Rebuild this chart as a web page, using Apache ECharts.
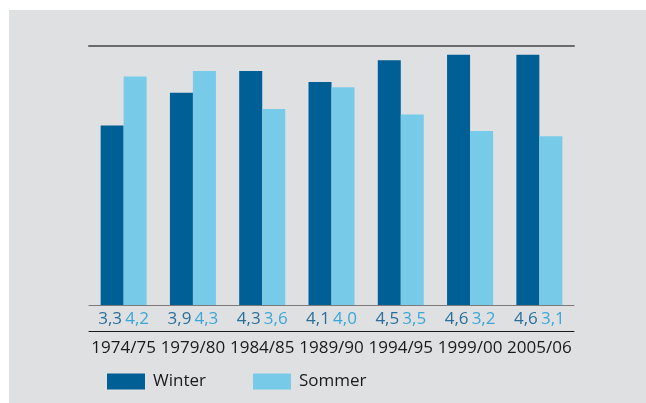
<!DOCTYPE html>
<html>
<head>
<meta charset="utf-8">
<script src="https://cdn.jsdelivr.net/npm/echarts@6/dist/echarts.min.js"></script>
<style>
  html, body { margin: 0; padding: 0; background: #fff; }
  #chart { width: 646px; height: 403px; }
</style>
</head>
<body>
<div id="chart"></div>
<script>
// Daten
const jahre = ['1974/75', '1979/80', '1984/85', '1989/90', '1994/95', '1999/00', '2005/06'];
const winter = [3.3, 3.9, 4.3, 4.1, 4.5, 4.6, 4.6];
const sommer = [4.2, 4.3, 3.6, 4.0, 3.5, 3.2, 3.1];

const dunkel = '#005f94';
const hell = '#78cbe8';
const fmt = v => v.toFixed(1).replace('.', ',');

const chart = echarts.init(document.getElementById('chart'));
const fontFamily = '"Open Sans", sans-serif';

const option = {
  backgroundColor: '#ffffff',
  textStyle: { fontFamily: fontFamily },
  // grauer Hintergrund
  graphic: [{
    type: 'rect',
    left: 9, top: 10,
    shape: { width: 637, height: 393 },
    style: { fill: '#dfe0e2' },
    z: -10
  }],
  grid: { left: 89, width: 485, top: 46, height: 259 },
  legend: {
    left: 102, top: 368,
    itemWidth: 38, itemHeight: 16,
    itemGap: 47,
    icon: 'rect',
    textStyle: { fontSize: 17, color: '#1a1a1a', fontFamily: fontFamily, padding: [0, 0, 0, 3] },
    data: ['Winter', 'Sommer']
  },
  xAxis: [
    {
      type: 'category',
      data: jahre,
      position: 'bottom',
      axisLine: { lineStyle: { color: '#7a7a7a', width: 1 } },
      axisTick: { show: false },
      axisLabel: {
        interval: 0,
        margin: 6,
        formatter: (v, i) => '{w|' + fmt(winter[i]) + '} {s|' + fmt(sommer[i]) + '}',
        rich: {
          w: { color: '#2a6f9b', fontSize: 17, fontFamily: fontFamily },
          s: { color: '#3aa7d8', fontSize: 17, fontFamily: fontFamily }
        }
      }
    },
    {
      type: 'category',
      data: jahre,
      position: 'bottom',
      offset: 26,
      axisLine: { lineStyle: { color: '#1a1a1a', width: 1 } },
      axisTick: { show: false },
      axisLabel: { interval: 0, margin: 9, fontSize: 17, color: '#1a1a1a', fontFamily: fontFamily }
    },
    {
      type: 'category',
      data: jahre,
      position: 'top',
      axisLine: { lineStyle: { color: '#6b6b6b', width: 2 } },
      axisTick: { show: false },
      axisLabel: { show: false }
    }
  ],
  yAxis: {
    type: 'value',
    min: 0,
    max: 4.76,
    show: false,
    splitLine: { show: false }
  },
  series: [
    {
      name: 'Winter',
      type: 'bar',
      data: winter,
      barWidth: 23,
      barGap: '0%',
      itemStyle: { color: dunkel }
    },
    {
      name: 'Sommer',
      type: 'bar',
      data: sommer,
      barWidth: 23,
      barGap: '0%',
      itemStyle: { color: hell }
    }
  ]
};

chart.setOption(option);
window.addEventListener('resize', function () {
  chart.resize();
});
</script>
</body>
</html>
